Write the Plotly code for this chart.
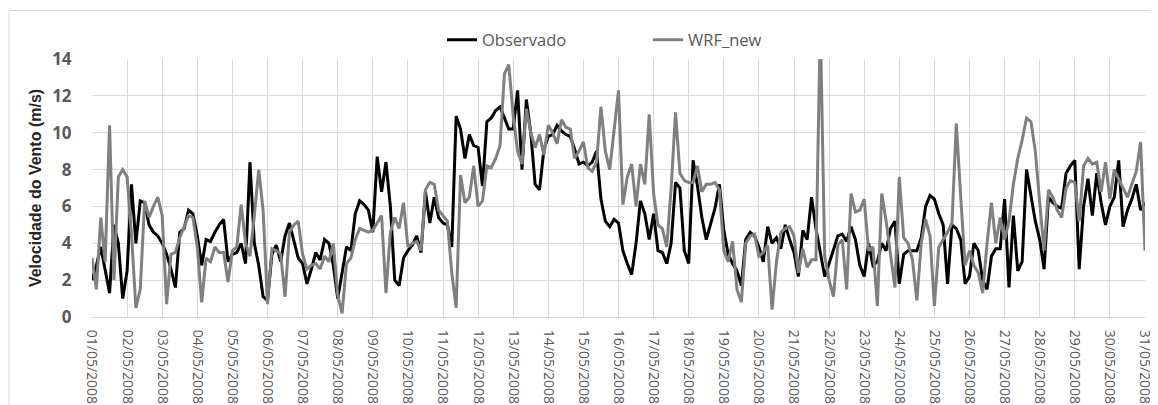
import pandas as pd
import plotly.graph_objects as go

# 3-hourly readings, 01/05/2008 00h .. 31/05/2008 00h
observado = [
    2.0, 2.8, 3.8, 2.6, 1.3, 5.0, 4.0, 1.0,
    2.5, 7.2, 4.0, 6.3, 6.2, 5.0, 4.6, 4.4,
    4.0, 3.4, 2.6, 1.6, 4.6, 4.8, 5.8, 5.6,
    4.4, 2.8, 4.2, 4.1, 4.6, 5.0, 5.3, 3.0,
    3.4, 3.5, 4.0, 2.9, 8.4, 4.0, 2.8, 1.1,
    0.9, 3.4, 3.9, 3.0, 4.4, 5.1, 4.2, 3.2,
    2.9, 1.8, 2.6, 3.5, 3.1, 4.2, 4.0, 2.8,
    1.0, 2.3, 3.8, 3.6, 5.6, 6.3, 6.1, 5.8,
    4.6, 8.7, 6.8, 8.4, 6.0, 2.0, 1.7, 3.2,
    3.6, 3.9, 4.4, 3.5, 6.8, 5.1, 6.5, 5.4,
    5.1, 5.0, 3.8, 10.9, 10.2, 8.6, 9.9, 9.3,
    9.2, 7.1, 10.6, 10.8, 11.2, 11.4, 10.8, 10.2,
    10.2, 12.3, 8.0, 11.8, 10.0, 7.2, 6.9, 9.1,
    9.8, 9.9, 10.4, 10.1, 9.9, 9.8, 9.1, 8.3,
    8.4, 8.2, 8.4, 9.0, 6.4, 5.2, 4.9, 5.3,
    5.1, 3.6, 2.9, 2.3, 4.0, 6.3, 5.6, 4.2,
    5.6, 3.6, 3.5, 2.9, 4.0, 7.3, 7.0, 3.6,
    2.9, 8.5, 7.1, 5.4, 4.2, 5.0, 5.9, 7.2,
    4.7, 3.4, 2.9, 2.5, 1.7, 4.2, 4.6, 4.4,
    3.8, 3.0, 4.9, 4.0, 4.3, 3.7, 5.0, 4.2,
    3.5, 2.2, 4.7, 4.2, 6.5, 4.8, 3.4, 2.2,
    2.9, 3.6, 4.4, 4.5, 4.1, 4.9, 4.2, 2.8,
    2.2, 4.0, 2.8, 3.0, 4.0, 3.6, 4.8, 5.2,
    1.8, 3.4, 3.6, 3.6, 3.6, 4.3, 6.0, 6.6,
    6.4, 5.6, 5.0, 1.8, 5.0, 4.8, 4.2, 1.8,
    2.2, 4.0, 3.6, 2.0, 1.5, 3.3, 3.7, 3.7,
    6.4, 1.6, 5.5, 2.5, 3.0, 8.0, 6.5, 5.2,
    4.2, 2.6, 6.5, 6.2, 6.0, 5.9, 7.8, 8.2,
    8.5, 2.6, 6.0, 7.5, 5.5, 7.8, 6.2, 5.0,
    6.0, 6.5, 8.5, 4.9, 5.8, 6.4, 7.2, 5.8,
    6.2,
]

wrf_new = [
    3.2, 1.5, 5.4, 3.0, 10.4, 2.0, 7.6, 8.0,
    7.6, 4.5, 0.5, 1.5, 6.3, 5.4, 6.0, 6.5,
    5.5, 0.7, 3.4, 3.5, 4.3, 4.9, 5.5, 5.4,
    3.8, 0.8, 3.2, 3.0, 3.8, 3.5, 3.5, 1.9,
    3.6, 3.8, 6.1, 4.0, 3.3, 5.5, 8.0, 5.8,
    0.7, 3.7, 3.6, 3.4, 1.1, 4.6, 5.0, 5.2,
    3.4, 2.6, 2.8, 2.9, 2.6, 3.3, 3.0, 4.0,
    1.2, 0.2, 2.9, 3.2, 4.2, 4.8, 4.7, 4.6,
    4.7, 5.1, 5.5, 1.3, 4.6, 5.4, 4.8, 6.2,
    3.8, 4.0, 4.1, 3.6, 6.9, 7.3, 7.2, 5.8,
    5.5, 5.2, 2.4, 0.5, 7.7, 6.2, 6.5, 8.2,
    6.0, 6.3, 8.2, 8.1, 8.6, 9.3, 13.2, 13.7,
    10.9, 9.0, 8.3, 11.3, 10.0, 9.2, 9.9, 8.8,
    10.4, 10.0, 9.4, 10.7, 10.3, 10.2, 8.6, 9.0,
    9.5, 8.1, 7.9, 8.4, 11.4, 9.0, 8.0, 10.3,
    12.3, 6.1, 7.6, 8.3, 6.0, 8.3, 7.2, 11.0,
    6.7, 5.0, 4.8, 3.8, 7.0, 11.1, 7.8, 7.4,
    7.3, 7.3, 8.2, 6.8, 7.2, 7.2, 7.3, 6.9,
    3.6, 3.0, 4.1, 1.5, 0.8, 4.0, 4.4, 4.5,
    3.3, 3.5, 3.9, 0.4, 3.0, 4.6, 4.8, 4.9,
    4.4, 2.4, 3.7, 2.7, 3.1, 3.1, 16.0, 3.3,
    2.0, 1.1, 3.9, 4.2, 1.5, 6.7, 5.7, 5.8,
    6.4, 3.6, 3.8, 0.6, 6.7, 5.2, 3.3, 1.6,
    7.6, 4.3, 4.0, 3.1, 0.9, 4.0, 5.3, 4.4,
    0.6, 3.8, 4.2, 4.6, 5.1, 10.5, 6.5, 2.8,
    3.6, 2.8, 2.4, 1.3, 4.0, 6.2, 4.0, 5.4,
    4.2, 5.2, 7.2, 8.6, 9.6, 10.8, 10.6, 9.0,
    6.2, 3.6, 6.9, 6.5, 5.8, 5.4, 7.0, 7.4,
    7.3, 5.2, 8.2, 8.6, 8.3, 8.4, 6.8, 8.4,
    6.4, 8.0, 7.5, 7.0, 6.5, 7.2, 7.9, 9.5,
    3.6,
]

times = pd.date_range("2008-05-01 00:00", periods=len(observado), freq="3h")

series_names = ["Observado", "WRF_new"]
y_title = "Velocidade do Vento (m/s)"

fig = go.Figure()
fig.add_trace(go.Scatter(x=times, y=observado, mode="lines", name=series_names[0],
                         line=dict(color="#000000", width=3)))
fig.add_trace(go.Scatter(x=times, y=wrf_new, mode="lines", name=series_names[1],
                         line=dict(color="#808080", width=3)))

# the page body adds an 8px margin, so the figure is drawn 8px smaller/shifted
W, H = 1150, 397
L, R, T, B = 84, 13, 51, 88
PW, PH = W - L - R, H - T - B

grid = "#d9d9d9"
fig.update_layout(
    width=W, height=H,
    margin=dict(l=L, r=R, t=T, b=B),
    paper_bgcolor="white", plot_bgcolor="white",
    font=dict(family="Open Sans", color="#595959", size=15),
    showlegend=True,
    legend=dict(orientation="h", x=(442 - 8 - L) / PW, xanchor="left",
                y=(T + PH - (40 - 8)) / PH, yanchor="middle",
                font=dict(family="Open Sans", size=16.5, color="#595959"),
                entrywidth=161, bgcolor="rgba(0,0,0,0)"),
    xaxis=dict(type="date", range=["2008-05-01", "2008-05-31"], dtick=86400000,
               tick0="2008-05-01", tickformat="%d/%m/%Y", tickangle=90,
               showgrid=True, gridcolor=grid, gridwidth=1,
               showline=True, linecolor=grid, linewidth=1,
               ticks="outside", ticklen=9, tickcolor="rgba(0,0,0,0)",
               ticklabeloverflow="allow",
               tickfont=dict(family="Open Sans", size=14, color="#595959"),
               automargin=False, zeroline=False),
    yaxis=dict(range=[0, 14], dtick=2, showgrid=True, gridcolor=grid, gridwidth=1,
               zeroline=False, showline=False,
               ticks="outside", ticklen=16, tickcolor="rgba(0,0,0,0)",
               tickfont=dict(family="Open Sans", size=17, color="#595959", weight="bold"),
               title=dict(text=y_title, standoff=6,
                          font=dict(family="Liberation Sans", size=16, color="#262626", weight="bold")),
               automargin=False),
)

# outer chart border
fig.add_shape(type="rect", xref="paper", yref="paper",
              x0=(1 - L) / PW, x1=(1175 - L) / PW,
              y0=(T + PH - 420) / PH, y1=(T + PH - 2.5) / PH,
              line=dict(color="#d9d9d9", width=1), fillcolor="rgba(0,0,0,0)", layer="below")

fig.write_html("out.html")
